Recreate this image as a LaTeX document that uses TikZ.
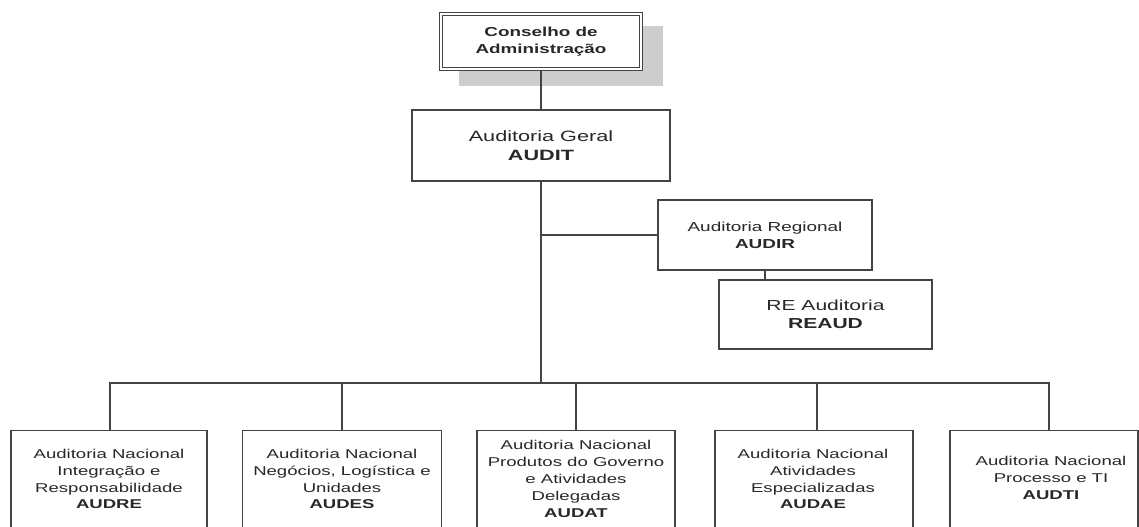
\documentclass[tikz,border=0pt]{standalone}
\usepackage{fontspec}
\setmainfont{Liberation Sans}
\newfontfamily\wsans[FakeStretch=1.45]{Liberation Sans}
\usetikzlibrary{calc}
\definecolor{linec}{RGB}{68,68,68}
\definecolor{txtc}{RGB}{40,40,40}
\definecolor{shadowc}{RGB}{205,205,205}
\tikzset{
  box/.style={draw=linec, line width=1.1pt, fill=white, inner sep=0pt},
  conn/.style={draw=linec, line width=1.1pt},
  lowtxt/.style={text=txtc, align=center, inner sep=0pt, font=\wsans\fontsize{9.6}{12.7}\selectfont},
}
\begin{document}
\begin{tikzpicture}[x=0.75pt,y=-0.75pt]
\useasboundingbox (0,0) rectangle (1139,527);
\clip (0,0) rectangle (1139,527);
\fill[white] (0,0) rectangle (1139,527);
% shadow of the board box
\fill[shadowc] (459,26) rectangle (663,86);
% board
\node[draw=linec, double=white, double distance=1.6pt, line width=0.8pt, fill=white,
      minimum width={200*0.75pt}, minimum height={55*0.75pt}, inner sep=0pt,
      text=txtc, align=center, font=\wsans\bfseries\fontsize{9.75}{12.75}\selectfont]
      (cons) at (541,41.5) {Conselho de\\Administração};
% general audit
\node[box, minimum width={258*0.75pt}, minimum height={71*0.75pt}, text=txtc, align=center,
      font=\wsans\fontsize{11.2}{14.25}\selectfont]
      (audit) at (541,145.5) {Auditoria Geral\\\textbf{AUDIT}};
% regional
\node[box, minimum width={214*0.75pt}, minimum height={70*0.75pt}, text=txtc, align=center,
      font=\wsans\fontsize{9.8}{12.5}\selectfont]
      (audir) at (765,235) {Auditoria Regional\\\textbf{AUDIR}};
\node[box, minimum width={213*0.75pt}, minimum height={69*0.75pt}, text=txtc, align=center,
      font=\wsans\fontsize{10.9}{13.5}\selectfont]
      (reaud) at (825.5,314.5) {RE Auditoria\\\textbf{REAUD}};
% bottom boxes (cut by the lower edge)
\node[box, anchor=north, minimum width={196*0.75pt}, minimum height={120*0.75pt}] (audreB) at (109,430) {};
\node[box, anchor=north, minimum width={199*0.75pt}, minimum height={120*0.75pt}] (audesB) at (342,430) {};
\node[box, anchor=north, minimum width={198*0.75pt}, minimum height={120*0.75pt}] (audatB) at (576,430) {};
\node[box, anchor=north, minimum width={198*0.75pt}, minimum height={120*0.75pt}] (audaeB) at (814,430) {};
\node[box, anchor=north, minimum width={188*0.75pt}, minimum height={120*0.75pt}] (audtiB) at (1044,430) {};
\node[lowtxt] (audre) at (109,479) {Auditoria Nacional\\Integração e\\Responsabilidade\\\textbf{AUDRE}};
\node[lowtxt] (audes) at (342,479) {Auditoria Nacional\\Negócios, Logística e\\Unidades\\\textbf{AUDES}};
\node[lowtxt] (audat) at (576,479) {Auditoria Nacional\\Produtos do Governo\\e Atividades\\Delegadas\\\textbf{AUDAT}};
\node[lowtxt] (audae) at (813,479) {Auditoria Nacional\\Atividades\\Especializadas\\\textbf{AUDAE}};
\node[lowtxt] (audti) at (1051,478) {Auditoria Nacional\\Processo e TI\\\textbf{AUDTI}};
% connectors
\coordinate (bus) at (541,383);
\draw[conn] (cons) -- (audit);
\draw[conn] (audit.south) -- (bus);
\draw[conn] (audit.south |- audir.west) -- (audir.west);
\draw[conn] (audir.south) -- (audir.south |- reaud.north);
\draw[conn] ([xshift=0.75pt]audreB.north) |- (bus) -| ([xshift=3.75pt]audtiB.north);
\draw[conn] (audesB.north) -- (audesB.north |- bus);
\draw[conn] (audatB.north) -- (audatB.north |- bus);
\draw[conn] ([xshift=2.25pt]audaeB.north) -- ([xshift=2.25pt]audaeB.north |- bus);
\end{tikzpicture}
\end{document}
